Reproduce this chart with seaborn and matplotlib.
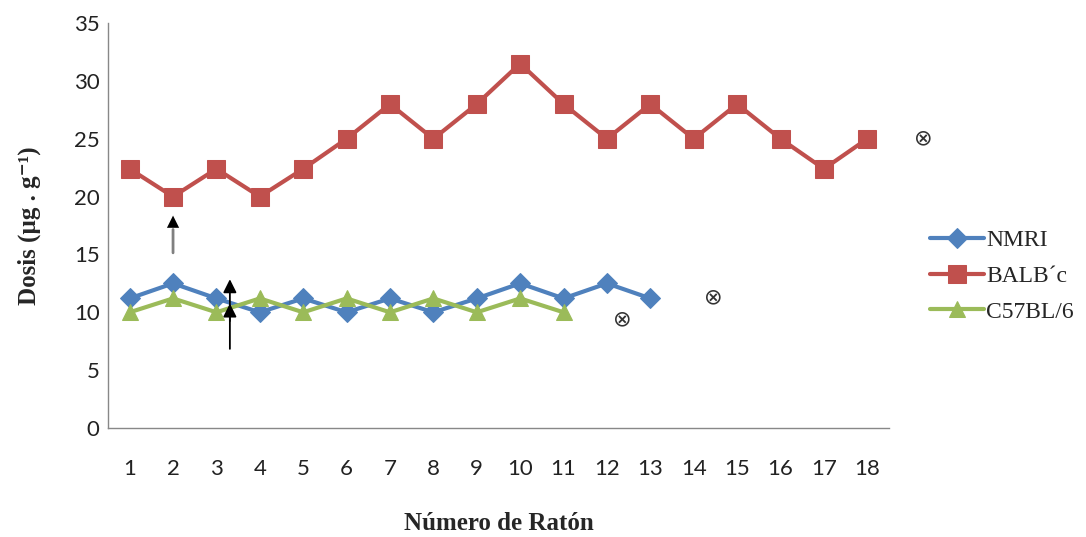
import numpy as np
import pandas as pd
import seaborn as sns
import matplotlib.pyplot as plt

# data
raton_nmri=list(range(1,14))
dosis_nmri=[11.2,12.5,11.2,10,11.2,10,11.2,10,11.2,12.5,11.2,12.5,11.2]
raton_balb=list(range(1,19))
dosis_balb=[22.4,20,22.4,20,22.4,25,28,25,28,31.5,28,25,28,25,28,25,22.4,25]
raton_c57=list(range(1,12))
dosis_c57=[10,11.2,10,11.2,10,11.2,10,11.2,10,11.2,10]
muertes_x=[12.35,14.45,19.3]
muertes_y=[9.4,11.3,25]
cepas=["NMRI","BALB´c","C57BL/6"]

sns.set_theme(style="white")
plt.rcParams["font.family"]=["Lato","DejaVu Sans"]
serif=["Liberation Serif","DejaVu Serif"]

df=pd.concat([
    pd.DataFrame({"raton":raton_nmri,"dosis":dosis_nmri,"cepa":cepas[0]}),
    pd.DataFrame({"raton":raton_balb,"dosis":dosis_balb,"cepa":cepas[1]}),
    pd.DataFrame({"raton":raton_c57,"dosis":dosis_c57,"cepa":cepas[2]}),
])

fg=plt.figure(figsize=(10.86,5.37),dpi=100)
ax=fg.add_axes([0.0994,0.203,0.7192,0.754])

colores={"NMRI":"#4F81BD","BALB´c":"#C0504D","C57BL/6":"#9BBB59"}
marcas={"NMRI":"D","BALB´c":"s","C57BL/6":"^"}
tam={"NMRI":10,"BALB´c":12.5,"C57BL/6":12}
for c in cepas:
    sns.lineplot(data=df[df.cepa==c],x="raton",y="dosis",ax=ax,
        color=colores[c],marker=marcas[c],markersize=tam[c],
        markeredgecolor=colores[c],linewidth=3,label=c)

# death markers
for x,y in zip(muertes_x,muertes_y):
    ax.text(x,y,"⊗",ha="center",va="center",fontsize=16,
        family="DejaVu Sans",color="#333333")

# arrows
ax.annotate("",xy=(2,17.4),xytext=(2,14.9),
    arrowprops=dict(arrowstyle="-",color="#808080",lw=2))
ax.annotate("",xy=(2,18.6),xytext=(2,17.0),
    arrowprops=dict(arrowstyle="-|>",color="black",lw=0,mutation_scale=22))
ax.annotate("",xy=(3.31,13.1),xytext=(3.31,6.6),
    arrowprops=dict(arrowstyle="-|>",color="black",lw=1.3,mutation_scale=20))
ax.annotate("",xy=(3.31,11.0),xytext=(3.31,9.0),
    arrowprops=dict(arrowstyle="-|>",color="black",lw=1.3,mutation_scale=20))

ax.set_xlim(0.5,18.5)
ax.set_ylim(0,35)
ax.set_xticks(raton_balb)
ax.set_yticks(range(0,36,5))
ax.tick_params(axis="both",labelsize=16,colors="#222222",length=0,pad=6)
ax.tick_params(axis="x",pad=22)
for s in ["top","right"]:
    ax.spines[s].set_visible(False)
for s in ["left","bottom"]:
    ax.spines[s].set_color("#888888")
    ax.spines[s].set_linewidth(1)

ax.set_xlabel("Número de Ratón",family=serif,fontsize=18,fontweight="bold",labelpad=24)
ax.set_ylabel("Dosis (µg . g⁻¹)",family=serif,fontsize=18,fontweight="bold",labelpad=24)

ax.legend(loc="center left",bbox_to_anchor=(1.04,0.375),frameon=False,
    prop={"family":serif,"size":17},handlelength=2.3,labelspacing=0.6,
    handletextpad=0.1,borderaxespad=0.0)

plt.savefig("out.png",dpi=100)
